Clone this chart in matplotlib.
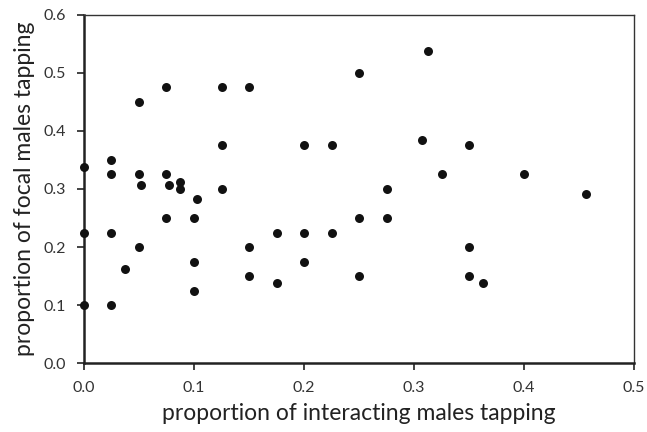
import matplotlib
matplotlib.use("Agg")
import matplotlib.pyplot as plt

x_interacting = [0, 0, 0,
                 0.025, 0.025, 0.025, 0.025,
                 0.0375,
                 0.05, 0.05, 0.05, 0.052,
                 0.075, 0.075, 0.075, 0.077,
                 0.0875, 0.0875,
                 0.1, 0.1, 0.1, 0.1025,
                 0.125, 0.125, 0.125,
                 0.15, 0.15, 0.15,
                 0.175, 0.175,
                 0.2, 0.2, 0.2,
                 0.225, 0.225,
                 0.25, 0.25, 0.25,
                 0.275, 0.275,
                 0.3075, 0.3125,
                 0.325,
                 0.35, 0.35, 0.35,
                 0.3625,
                 0.4,
                 0.456]
y_focal = [0.3375, 0.225, 0.1,
           0.35, 0.325, 0.225, 0.1,
           0.1625,
           0.45, 0.325, 0.2, 0.3075,
           0.475, 0.325, 0.25, 0.3075,
           0.3125, 0.30,
           0.25, 0.175, 0.125, 0.2825,
           0.475, 0.375, 0.30,
           0.475, 0.2, 0.15,
           0.225, 0.1375,
           0.375, 0.225, 0.175,
           0.375, 0.225,
           0.5, 0.25, 0.15,
           0.30, 0.25,
           0.385, 0.5375,
           0.325,
           0.375, 0.2, 0.15,
           0.1375,
           0.325,
           0.291]

xticks = [0.0, 0.1, 0.2, 0.3, 0.4, 0.5]
yticks = [0.0, 0.1, 0.2, 0.3, 0.4, 0.5, 0.6]

plt.rcParams['font.family'] = ['Lato', 'DejaVu Sans']

fig = plt.figure(figsize=(6.47, 4.32), dpi=100)
ax = fig.add_axes([0.1298, 0.1597, 0.8502, 0.8056])
ax.scatter(x_interacting, y_focal, s=42, color='#111111', zorder=3, clip_on=False, linewidths=0)

ax.set_xlim(0, 0.5)
ax.set_ylim(0, 0.6)
ax.set_xticks(xticks)
ax.set_yticks(yticks)
ax.set_xticklabels([f"{v:.1f}" for v in xticks])
ax.set_yticklabels([f"{v:.1f}" for v in yticks])
ax.tick_params(direction='out', length=5, width=1.2, color='#222222', labelsize=11.5, labelcolor='#333333')
ax.tick_params(axis='x', pad=8)
ax.tick_params(axis='y', pad=8)

for s in ['left', 'bottom']:
    ax.spines[s].set_linewidth(1.8)
    ax.spines[s].set_color('#222222')
for s in ['top', 'right']:
    ax.spines[s].set_linewidth(1.0)
    ax.spines[s].set_color('#333333')

ax.set_xlabel('proportion of interacting males tapping', fontsize=16.5, color='#222222', labelpad=6)
ax.set_ylabel('proportion of focal males tapping', fontsize=16.5, color='#222222', labelpad=6)

fig.savefig('out.png', dpi=100)
